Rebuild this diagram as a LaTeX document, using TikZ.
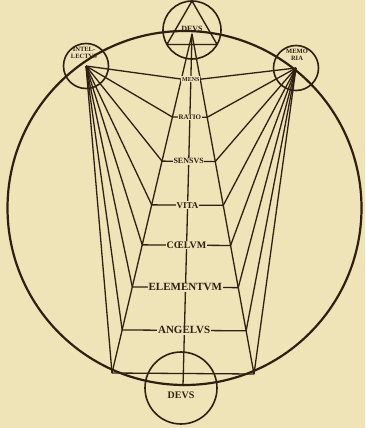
\documentclass[tikz,border=0pt]{standalone}
\usepackage{fontspec}
\setmainfont{Liberation Serif}
\usetikzlibrary{calc}
\definecolor{Paper}{HTML}{EFE3B8}
\definecolor{Ink}{HTML}{2E2010}

\begin{document}
\begin{tikzpicture}[
  x=1pt,y=-1pt,
  ring/.style={draw=Ink,line width=1.6pt},
  ray/.style={draw=Ink,line width=1.3pt,line join=round},
  rung/.style={fill=Paper,inner sep=0.7pt,text=Ink},
  tag/.style={text=Ink,inner sep=0pt,align=center}
]
\fill[Paper] (0,0) rectangle (365,428);
\useasboundingbox (0,0) rectangle (365,428);

% great circle and the four small ones
\draw[Ink,line width=2.2pt] (184.5,208) circle [radius=177pt];
\node[ring,circle,minimum size=58pt,inner sep=0pt] (deus-top) at (192,30) {};
\node[ring,circle,minimum size=45pt,inner sep=0pt] (intel-ring) at (86,66) {};
\node[ring,circle,minimum size=45pt,inner sep=0pt] (memo-ring) at (296,68) {};
\node[ring,circle,minimum size=72pt,inner sep=0pt] (deus-bot) at (181,388) {};
\draw[ring,line width=1.4pt] (192,1) -- (166.9,44.5) -- (217.1,44.5) -- cycle;

\coordinate (intel) at (86,66);
\coordinate (memo) at (296,68);
\coordinate (apex) at (192,34);
\coordinate (foot) at (183,386);
\coordinate (bl) at (112,373);
\coordinate (br) at (254,374);

\draw[ray] (bl) -- (apex) -- (br);
\draw[ray] (apex) -- (foot);
\draw[ray] (intel) -- (bl) -- (br) -- (memo);

% the ladder
\foreach \f/\txt/\fs/\nm in {0.133/MENS/6/mens,0.245/RATIO/7/ratio,0.375/SENSVS/8/sensus,
  0.504/VITA/9/vita,0.622/CŒLVM/10/coelum,0.746/ELEMENTVM/11/elementum,0.873/ANGELVS/11/angelus}{
  \coordinate (\nm-l) at ($(apex)!\f!(bl)$);
  \coordinate (\nm-r) at ($(apex)!\f!(br)$);
  \draw[ray] (intel) -- (\nm-l) -- (\nm-r) -- (memo);
  \node[rung,font=\bfseries\fontsize{\fs}{\fs}\selectfont] (\nm) at ($(\nm-l)!0.5!(\nm-r)$) {\txt};
}

\node[tag,font=\bfseries\fontsize{8}{8}\selectfont] (deus-top-txt) at (192,29) {DEVS};
\node[tag,font=\bfseries\fontsize{6.5}{7.5}\selectfont] (intel-txt) at (84,53) {INTEL-\\LECTVS};
\node[tag,font=\bfseries\fontsize{6.5}{7.5}\selectfont] (memo-txt) at (297,55) {MEMO\\RIA};
\node[tag,font=\bfseries\fontsize{10}{10}\selectfont] (deus-bot-txt) at (181,395) {DEVS};
\end{tikzpicture}
\end{document}
